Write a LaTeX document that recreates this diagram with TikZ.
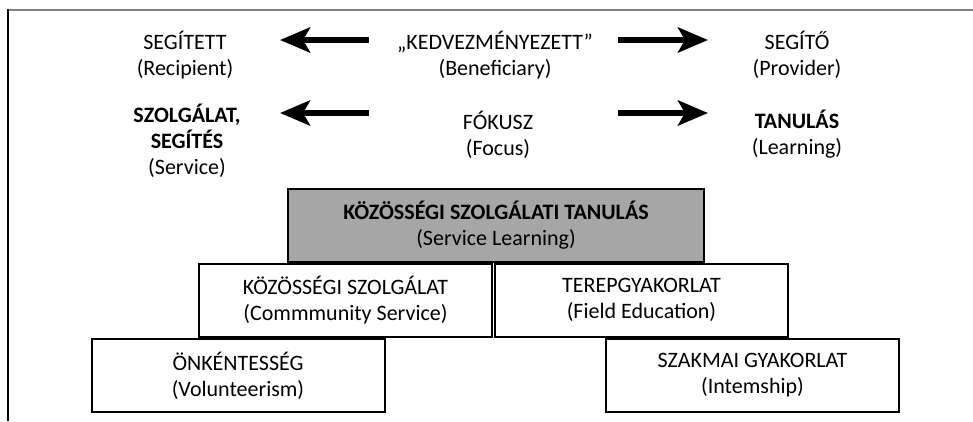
\documentclass[tikz,border=0pt]{standalone}
\usepackage{fontspec}
\setmainfont{Carlito}
\usetikzlibrary{arrows.meta, positioning}
\definecolor{slFill}{HTML}{A6A6A6}
\definecolor{slFrame}{HTML}{7F7F7F}
\tikzset{
  sltext/.style={align=center, inner sep=0pt, font=\fontsize{22}{26}\selectfont},
  slbox/.style={sltext, draw=black, line width=2pt, fill=white, minimum height=73pt, minimum width=293pt},
  sltop/.style={slbox, fill=slFill, minimum width=416pt},
  bigarrow/.style={-{Stealth[length=30pt, width=25pt, inset=7pt]}, line width=6pt},
  frameline/.style={line width=2pt}
}

\begin{document}
\begin{tikzpicture}[x=1pt, y=-1pt]
  \useasboundingbox (0,0) rectangle (973,421);
  % frame
  \draw[frameline, slFrame] (7,10) -- (973,10);
  \draw[frameline, black] (8,9) -- (8,421);

  % roles and focus
  \node[sltext] (recip) at (185,55) {SEGÍTETT\\(Recipient)};
  \node[sltext] (benef) at (495,55) {„KEDVEZMÉNYEZETT”\\(Beneficiary)};
  \node[sltext] (prov) at (797,55) {SEGÍTŐ\\(Provider)};
  \node[sltext] (serv) at (187,141) {\textbf{SZOLGÁLAT,}\\\textbf{SEGÍTÉS}\\(Service)};
  \node[sltext] (focus) at (498,135) {FÓKUSZ\\(Focus)};
  \node[sltext] (learn) at (797,134) {\textbf{TANULÁS}\\(Learning)};

  \coordinate (recipIn) at (280,40);
  \coordinate (benefL) at (369,40);
  \coordinate (benefR) at (618,40);
  \coordinate (provIn) at (708,40);
  \coordinate (servIn) at (280,113);
  \coordinate (focusL) at (369,113);
  \coordinate (focusR) at (618,113);
  \coordinate (learnIn) at (708,113);
  \draw[bigarrow] (benefL) -- (recipIn);
  \draw[bigarrow] (benefR) -- (provIn);
  \draw[bigarrow] (focusL) -- (servIn);
  \draw[bigarrow] (focusR) -- (learnIn);

  % steps
  \node[sltop] (sl) at (496,225.5) {\textbf{KÖZÖSSÉGI SZOLGÁLATI TANULÁS}\\(Service Learning)};
  \node[slbox] (cs) at (345.5,300) {KÖZÖSSÉGI SZOLGÁLAT\\(Commmunity Service)};
  \node[slbox] (fe) at (641.5,300) {TEREPGYAKORLAT\\(Field Education)};
  \node[slbox] (vol) at (238,375.5) {ÖNKÉNTESSÉG\\(Volunteerism)};
  \node[slbox] (intern) at (752.5,375.5) {SZAKMAI GYAKORLAT\\(Intemship)};
\end{tikzpicture}
\end{document}
